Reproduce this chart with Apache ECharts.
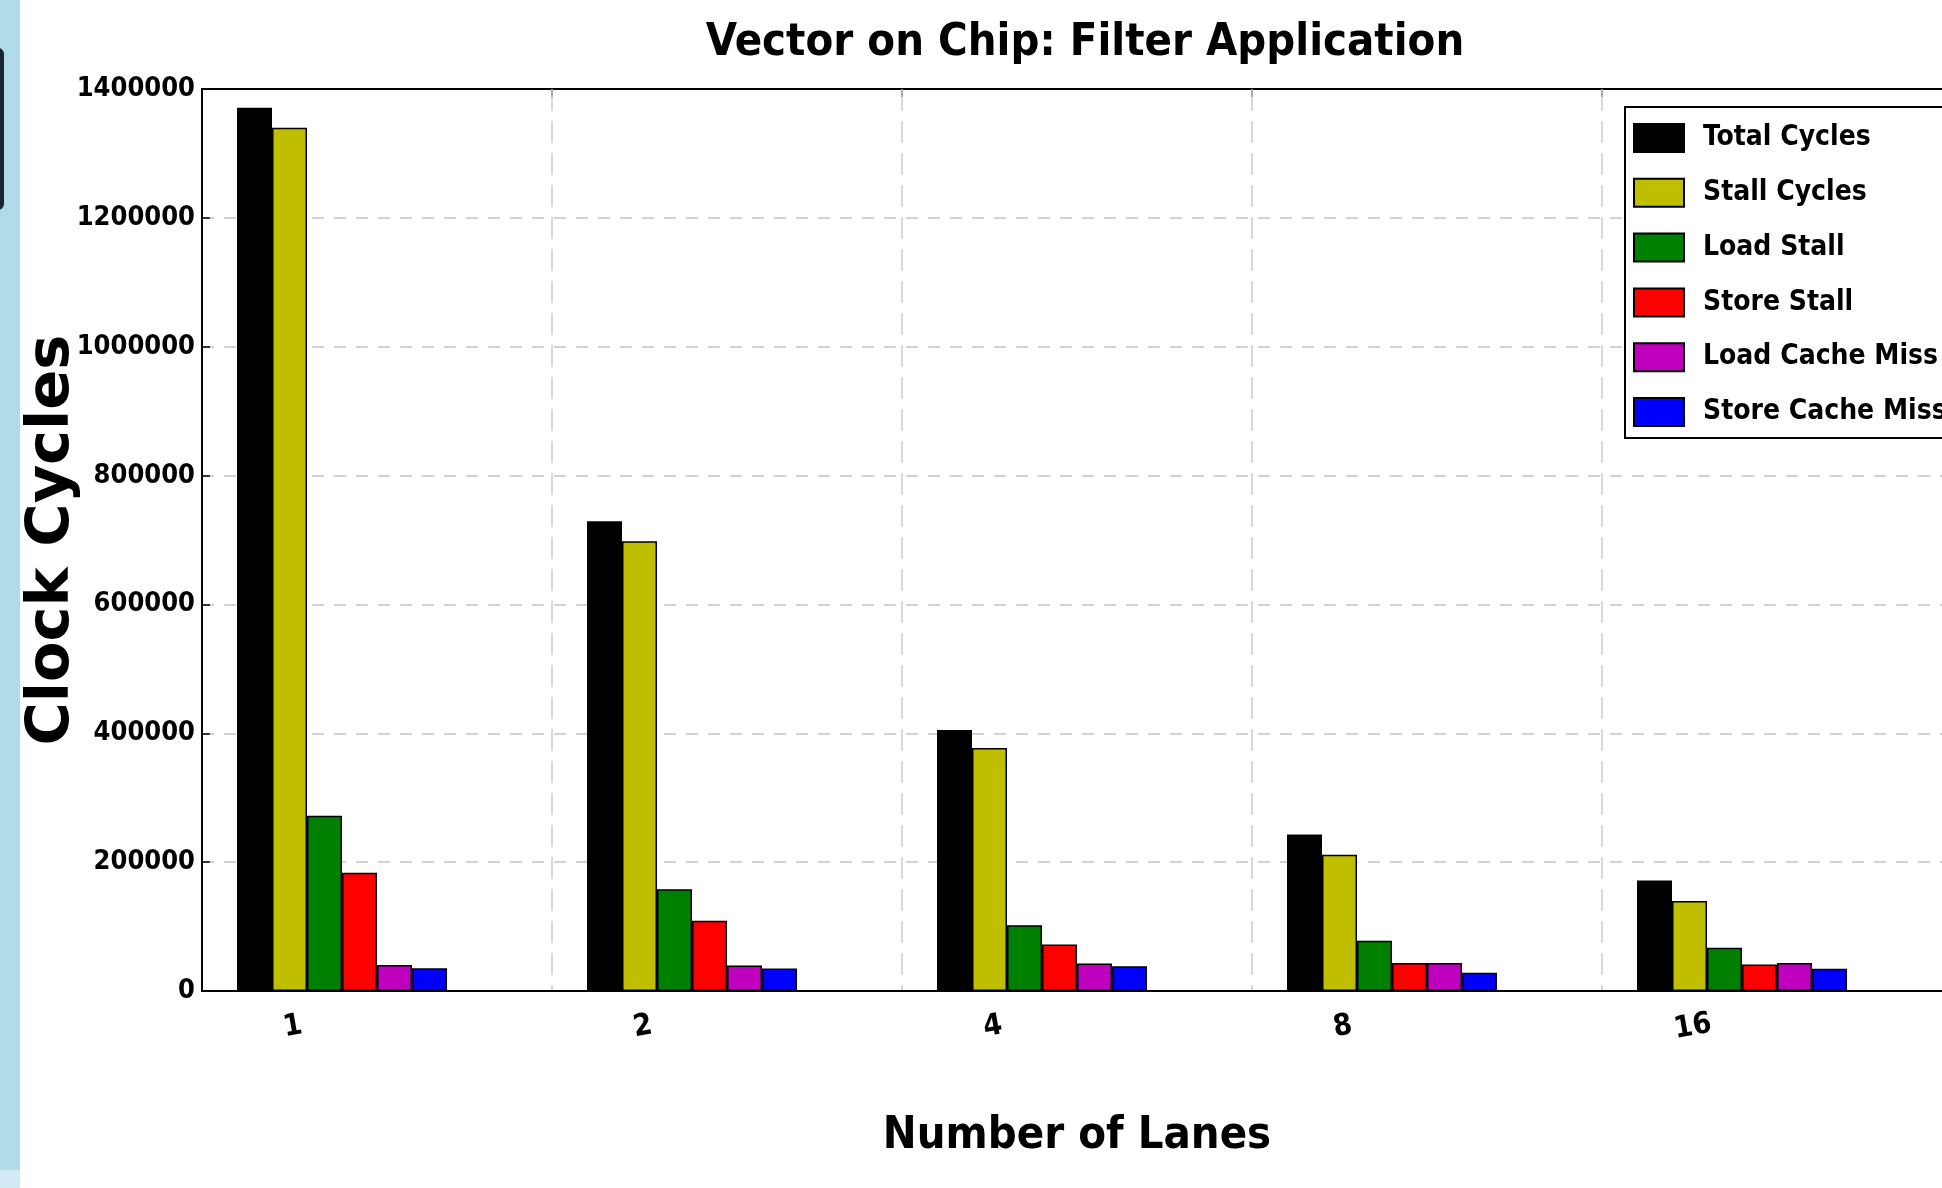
<!DOCTYPE html>
<html>
<head>
<meta charset="utf-8">
<script src="https://cdn.jsdelivr.net/npm/echarts@6/dist/echarts.min.js"></script>
<style>
html,body{margin:0;padding:0;background:#fff;}
#chart{width:1942px;height:1188px;}
</style>
</head>
<body>
<div id="chart"></div>
<script>
const categories = ['1', '2', '4', '8', '16'];
const seriesNames = ['Total Cycles', 'Stall Cycles', 'Load Stall', 'Store Stall', 'Load Cache Miss', 'Store Cache Miss'];
const totalCycles = [1371000, 729000, 405000, 243000, 171500];
const stallCycles = [1340000, 698000, 377000, 211500, 139500];
const loadStall = [272000, 158000, 102000, 78000, 67000];
const storeStall = [183500, 109000, 72000, 43500, 41000];
const loadCacheMiss = [40500, 39500, 42500, 43500, 43500];
const storeCacheMiss = [35500, 35000, 38500, 28500, 34500];
const yTicks = [0, 200000, 400000, 600000, 800000, 1000000, 1200000, 1400000];

const colors = ['#000000', '#bfbf00', '#008000', '#ff0000', '#bf00bf', '#0000ff'];
const narrow = "'DejaVu Sans Condensed', 'Liberation Sans', sans-serif";
const wide = "'DejaVu Sans', 'Liberation Sans', sans-serif";

const values = [totalCycles, stallCycles, loadStall, storeStall, loadCacheMiss, storeCacheMiss];

const series = values.map((d, i) => ({
  name: seriesNames[i],
  type: 'bar',
  data: d,
  barWidth: 35,
  barGap: '0%',
  itemStyle: { color: colors[i], borderColor: '#000', borderWidth: 1.5 },
  emphasis: { disabled: true }
}));
// two empty slots after the six bars keep each group left of the band centre, as in the original layout
['slot7', 'slot8'].forEach(n => series.push({
  name: n, type: 'bar', data: categories.map(() => '-'), barWidth: 35, barGap: '0%',
  itemStyle: { color: 'transparent' }, silent: true
}));

const chart = echarts.init(document.getElementById('chart'), null, { renderer: 'canvas' });
chart.setOption({
  animation: false,
  backgroundColor: '#ffffff',
  title: {
    text: 'Vector on Chip: Filter Application',
    left: 1080, top: 16, textAlign: 'center',
    textStyle: { fontFamily: narrow, fontWeight: 'bold', fontSize: 45, color: '#000' }
  },
  graphic: [
    { type: 'rect', left: 0, top: 0, shape: { width: 20, height: 1170 }, style: { fill: '#b2dbe9' }, silent: true },
    { type: 'rect', left: 0, top: 1170, shape: { width: 20, height: 18 }, style: { fill: '#d2e9f6' }, silent: true },
    { type: 'rect', position: [-20, 48], shape: { x: 0, y: 0, width: 24, height: 162, r: 6 }, style: { fill: '#17262f' }, silent: true }
  ],
  legend: {
    data: seriesNames,
    orient: 'vertical',
    left: 1625, top: 107,
    padding: [16, 40, 11, 8],
    itemWidth: 50, itemHeight: 28, itemGap: 24.8,
    icon: 'rect',
    borderColor: '#000', borderWidth: 2,
    backgroundColor: '#fff',
    textStyle: { fontFamily: narrow, fontWeight: 'bold', fontSize: 28, color: '#000', padding: [0, 0, 0, 14] }
  },
  grid: {
    left: 202, top: 89, bottom: 197, right: -10,
    containLabel: false, outerBoundsMode: 'none',
    show: true, borderColor: '#000', borderWidth: 2, backgroundColor: '#fff'
  },
  xAxis: [{
    type: 'category',
    data: categories,
    boundaryGap: true,
    name: 'Number of Lanes',
    nameLocation: 'middle',
    nameGap: 123,
    nameMoveOverlap: false,
    nameTextStyle: { fontFamily: narrow, fontWeight: 'bold', fontSize: 45, color: '#000' },
    axisLine: { lineStyle: { color: '#000', width: 2 } },
    axisTick: { inside: true, length: 8, lineStyle: { color: '#000', width: 1.5 } },
    splitLine: { show: true, showMinLine: false, lineStyle: { color: '#cccccc', width: 1.5, type: [22, 10] } },
    axisLabel: {
      interval: 0, rotate: 10, align: 'center', verticalAlign: 'top', margin: 6,
      formatter: '{a|{value}}',
      rich: { a: { fontFamily: narrow, fontWeight: 'bold', fontSize: 30, color: '#000', padding: [0, 176, 0, 0] } }
    },
    z: 5
  }, {
    type: 'category',
    data: categories,
    boundaryGap: true,
    position: 'top',
    axisLine: { show: false },
    axisTick: { show: true, inside: true, length: 8, lineStyle: { color: '#000', width: 1.5 } },
    axisLabel: { show: false },
    splitLine: { show: false }
  }],
  yAxis: {
    type: 'value',
    min: 0, max: 1400000, interval: 200000,
    name: 'Clock Cycles',
    nameLocation: 'middle',
    nameGap: 120,
    nameMoveOverlap: false,
    nameTextStyle: { fontFamily: wide, fontWeight: 'bold', fontSize: 59, color: '#000' },
    axisLine: { show: true, lineStyle: { color: '#000', width: 2 } },
    axisTick: { show: true, inside: true, length: 8, lineStyle: { color: '#000', width: 1.5 } },
    splitLine: { show: true, showMinLine: false, showMaxLine: false, lineStyle: { color: '#c4c4c4', width: 1.5, type: [12, 10] } },
    axisLabel: {
      margin: 7,
      fontFamily: narrow, fontWeight: 'bold', fontSize: 27, color: '#000',
      formatter: v => (yTicks.indexOf(v) >= 0 ? String(v) : '')
    }
  },
  series: series
});
</script>
</body>
</html>
